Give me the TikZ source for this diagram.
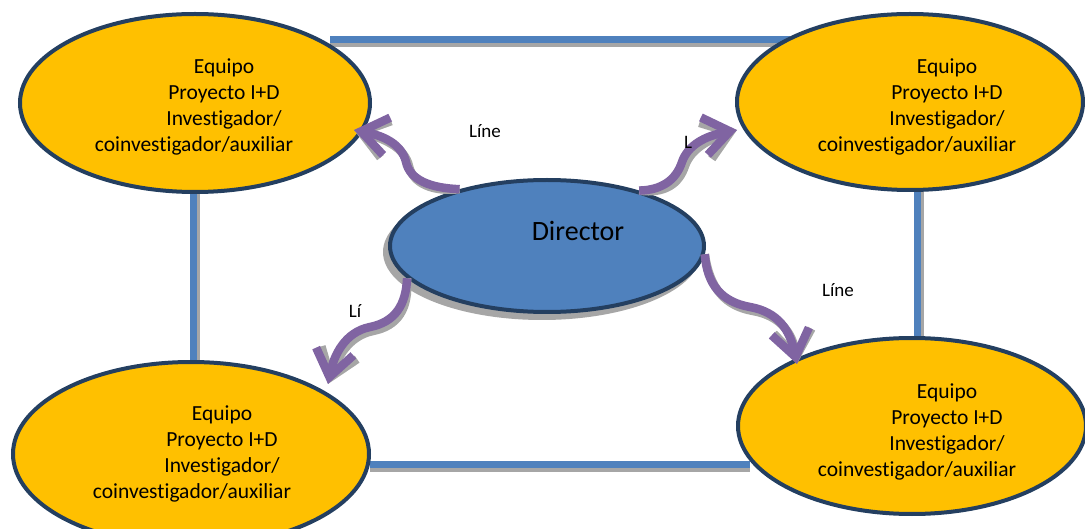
\documentclass[tikz,border=0pt]{standalone}
\usepackage{fontspec}
\setmainfont{Carlito}[Ligatures={NoCommon}]
\usetikzlibrary{shapes.geometric,arrows.meta}
\definecolor{gold}{HTML}{FFC000}
\definecolor{navy}{HTML}{243F60}
\definecolor{linkblue}{HTML}{4F81BD}
\definecolor{flowpurple}{HTML}{8064A2}
\definecolor{shadowgray}{HTML}{A6A6A6}
\tikzset{
  team/.style={ellipse, draw=navy, fill=gold, line width=4pt, inner sep=0pt},
  boss/.style={ellipse, draw=navy, fill=linkblue, line width=4pt, inner sep=0pt},
  bossshadow/.style={ellipse, fill=shadowgray, inner sep=0pt},
  teamtext/.style={font=\fontsize{21.5}{26}\selectfont, align=center, inner sep=0pt},
  bosstext/.style={font=\fontsize{28}{32}\selectfont, inner sep=0pt},
  lbl/.style={font=\fontsize{19}{22}\selectfont, inner sep=0pt},
  link/.style={draw=linkblue, line width=7pt},
  linkshadow/.style={draw=shadowgray, line width=7pt},
  flow/.style={draw=flowpurple, line width=8.5pt, -{Straight Barb[length=26pt,width=38pt]}},
  flowshadow/.style={draw=shadowgray, line width=8.5pt, -{Straight Barb[length=26pt,width=38pt]}},
}
\newcommand{\teamlines}{Equipo\\Proyecto I+D\\Investigador/\\coinvestigador/auxiliar\hspace*{60pt}}
\begin{document}
\begin{tikzpicture}[x=1pt,y=-1pt]
\useasboundingbox (0,0) rectangle (1085,529);
\clip (0,0) rectangle (1085,529);

% link end points
\coordinate (t1) at (330,40);
\coordinate (t2) at (790,40);
\coordinate (l1) at (193,190);
\coordinate (l2) at (193,362);
\coordinate (r1) at (917,189);
\coordinate (r2) at (917,340);
\coordinate (b1) at (370,464);
\coordinate (b2) at (750,464);

% link shadows and links
\draw[linkshadow] ([shift={(0,4)}]t1) -- ([shift={(0,4)}]t2);
\draw[linkshadow] ([shift={(3,0)}]l1) -- ([shift={(3,0)}]l2);
\draw[linkshadow] ([shift={(3,0)}]r1) -- ([shift={(3,0)}]r2);
\draw[linkshadow] ([shift={(0,4)}]b1) -- ([shift={(0,4)}]b2);
\draw[link] (t1) -- (t2);
\draw[link] (l1) -- (l2);
\draw[link] (r1) -- (r2);
\draw[link] (b1) -- (b2);

% team ellipses
\node[team, minimum width=350pt, minimum height=178pt] (tl) at (195,103) {};
\node[team, minimum width=346pt, minimum height=176pt] (tr) at (910,102) {};
\node[team, minimum width=348pt, minimum height=176pt] (br) at (912,426) {};
\node[team, minimum width=356pt, minimum height=184pt] (bl) at (191,454) {};

\node[teamtext] (tlt) at (224,107) {\teamlines};
\node[teamtext] (trt) at (947,107) {\teamlines};
\node[teamtext] (brt) at (947,432) {\teamlines};
\node[teamtext] (blt) at (222,454) {\teamlines};

% director
\node[bossshadow, minimum width=318pt, minimum height=136pt] (dirsh) at (542,252) {};
\node[boss, minimum width=314pt, minimum height=132pt] (dir) at (547,246) {};
\node[bosstext] (dirt) at (578,231) {Director};

% arrow tips
\coordinate (e1) at (354,130);
\coordinate (e2) at (737,130);
\coordinate (e3) at (328,384);
\coordinate (e4) at (797,364);

% arrow shadows
\begin{scope}[shift={(3,4)}]
\draw[flowshadow] (dir.147) .. controls (430,188) and (410,180) .. (406,162) .. controls (402,145) and (385,136) .. (e1);
\draw[flowshadow] (dir.31) .. controls (662,190) and (676,180) .. (682,162) .. controls (688,145) and (705,136) .. (e2);
\draw[flowshadow] (dir.-167) .. controls (406,305) and (395,322) .. (370,327) .. controls (345,332) and (334,355) .. (e3);
\draw[flowshadow] (dir.-3) .. controls (707,285) and (722,302) .. (750,307) .. controls (778,312) and (790,330) .. (e4);
\end{scope}
% arrows
\draw[flow] (dir.147) .. controls (430,188) and (410,180) .. (406,162) .. controls (402,145) and (385,136) .. (e1);
\draw[flow] (dir.31) .. controls (662,190) and (676,180) .. (682,162) .. controls (688,145) and (705,136) .. (e2);
\draw[flow] (dir.-167) .. controls (406,305) and (395,322) .. (370,327) .. controls (345,332) and (334,355) .. (e3);
\draw[flow] (dir.-3) .. controls (707,285) and (722,302) .. (750,307) .. controls (778,312) and (790,330) .. (e4);

% labels
\node[lbl] (lab1) at (485,131) {Líne};
\node[lbl] (lab2) at (688,142) {L};
\node[lbl] (lab3) at (355,311) {Lí};
\node[lbl] (lab4) at (838,290) {Líne};
\end{tikzpicture}
\end{document}
